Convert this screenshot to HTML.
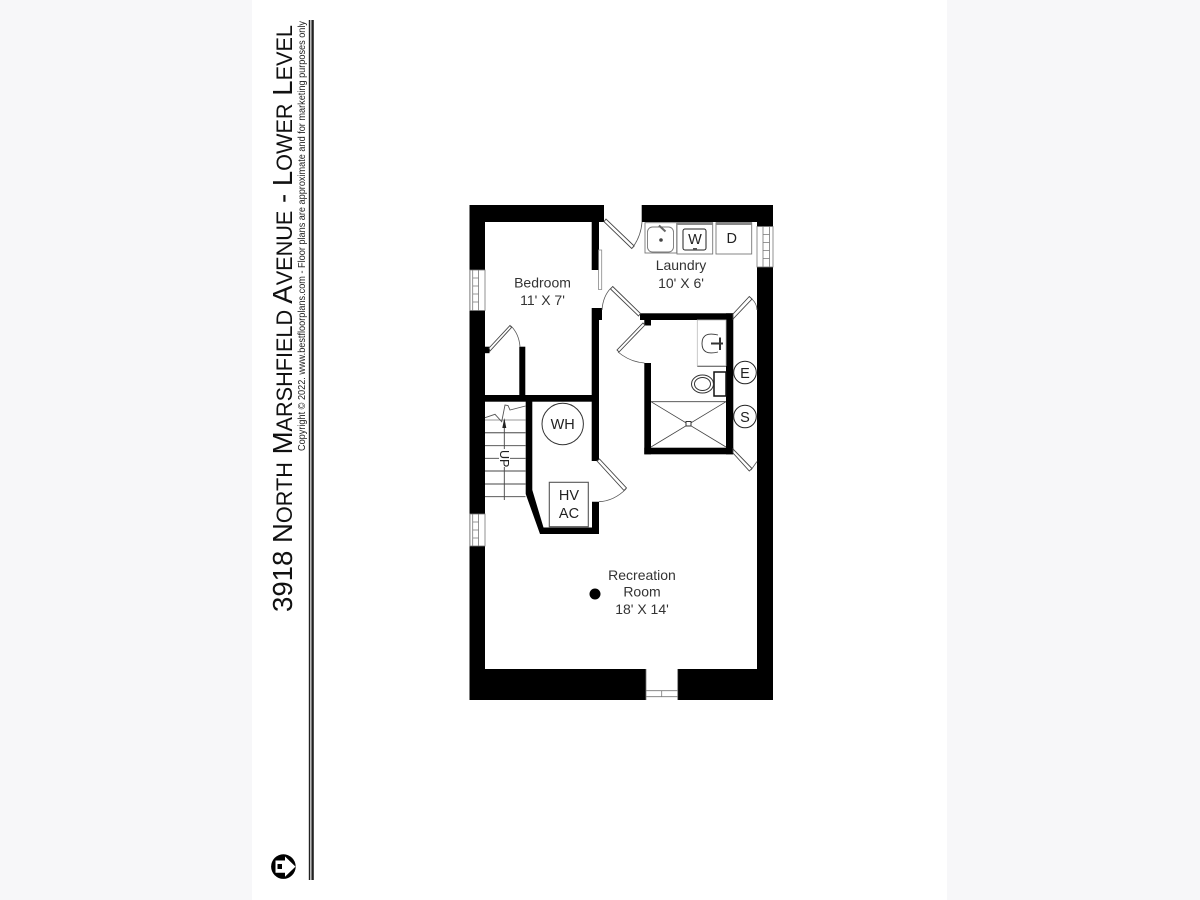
<!DOCTYPE html>
<html><head><meta charset="utf-8"><style>
html,body{margin:0;padding:0;background:#f7f7f9;width:1200px;height:900px;overflow:hidden}
svg{display:block;filter:blur(0.35px)}
text{font-family:"Liberation Sans",sans-serif;fill:#222}
</style></head><body>
<svg width="1200" height="900" viewBox="0 0 1200 900" xmlns="http://www.w3.org/2000/svg">
<rect width="1200" height="900" fill="#f7f7f9"/>
<rect x="252" width="695" height="900" fill="#fff"/>

<!-- title block -->
<g transform="translate(292,612) rotate(-90)">
<text x="0" y="0" font-size="28" textLength="587" lengthAdjust="spacingAndGlyphs" style="fill:#111">3918 N<tspan font-size="22">ORTH</tspan> M<tspan font-size="22">ARSHFIELD</tspan> A<tspan font-size="22">VENUE</tspan> - L<tspan font-size="22">OWER</tspan> L<tspan font-size="22">EVEL</tspan></text>
</g>
<g transform="translate(305,451) rotate(-90)">
<text x="0" y="0" font-size="10" textLength="430" lengthAdjust="spacingAndGlyphs">Copyright © 2022. www.bestfloorplans.com - Floor plans are approximate and for marketing purposes only</text>
</g>
<rect x="308.8" y="20" width="1.5" height="860" fill="#222"/>
<rect x="311.4" y="20" width="2.4" height="860" fill="#222"/>
<circle cx="283.4" cy="866.6" r="12.3" fill="#000"/>
<path d="M275.500 860.500H285V856.500L295.500 866.600L285 876.700V872.700H275.500Z" fill="#fff"/>
<rect x="277.500" y="864" width="4.500" height="5" fill="#000"/>

<!-- exterior walls -->
<rect x="469.5" y="205" width="303.5" height="495" fill="#000"/>
<rect x="485" y="222" width="272" height="447" fill="#fff"/>
<rect x="604" y="205" width="37.7" height="17" fill="#fff"/>

<!-- windows -->
<g fill="#fff" stroke="#777" stroke-width="0.8">
<rect x="470" y="270" width="15" height="40.5"/>
<path d="M472.700 270V310.500M478.500 270V310.500M472.700 278H478.500M472.700 286H478.500M472.700 294H478.500M472.700 302H478.500" fill="none"/>
<rect x="470" y="514" width="15" height="32"/>
<path d="M472.700 514V546M478.500 514V546M472.700 522H478.500M472.700 530H478.500M472.700 538H478.500" fill="none"/>
<rect x="757" y="226.5" width="16" height="40.5"/>
<path d="M763 226.500V267M769.500 226.500V267M763 234.500H769.500M763 242.500H769.500M763 250.500H769.500M763 258.500H769.500" fill="none"/>
</g>
<rect x="646" y="669" width="31.7" height="31" fill="#fff"/>
<path d="M646 669V700M677.700 669V700M646 690.700H677.700M646 696.700H677.700M661.700 690.700V696.700" fill="none" stroke="#777" stroke-width="0.8"/>

<!-- interior walls -->
<g fill="#000">
<rect x="591.7" y="222" width="7.3" height="48"/>
<rect x="591.7" y="308" width="7.3" height="153"/>
<rect x="599" y="308" width="3" height="12"/>
<rect x="485" y="395" width="114" height="6.7"/>
<rect x="519.3" y="346.7" width="6" height="48.5"/>
<rect x="485" y="346.7" width="4.5" height="6.5"/>
<path d="M525.7 401H532.3V490L543.5 527.5H592V501.7H599V534H540L525.7 494Z"/>
<rect x="640" y="313.3" width="93.3" height="6.7"/>
<rect x="644.3" y="320" width="6.7" height="5.5"/>
<rect x="726" y="313.3" width="7.3" height="141"/>
<rect x="644.3" y="363" width="6.7" height="91.3"/>
<rect x="644.3" y="447.7" width="89" height="6.6"/>
</g>

<!-- doors -->
<g fill="#fff" stroke="#444" stroke-width="0.9">
<path d="M604 221.700L631.700 248.500L634.200 246L606 219Z"/>
<path d="M612.700 286.500L640.500 313.500L638.500 316L610.500 289Z"/>
<path d="M645 325L619 352L617 350L643 323Z"/>
<path d="M489 348L510 325.500L511.500 327.500L490 351Z"/>
<path d="M733 314L749.300 296.500L752 299L733 319Z"/>
<path d="M733 453L749.300 471L752 468.500L733 449Z"/>
<path d="M597 461L624 490.500L626.500 488L599.500 459Z"/>
</g>
<g fill="none" stroke="#555" stroke-width="0.8">
<path d="M633 247Q641 236 642 222"/>
<path d="M611 288Q603 296 602 310"/>
<path d="M618 352Q630 362 644.500 363"/>
<path d="M511 326Q519 334 520 346.700"/>
<path d="M752 299Q757 304 757 310"/>
<path d="M751 470L757 461.500"/>
<path d="M626 489Q614 501 599 501.700"/>
<path d="M598.500 250V289.500H601.700V250Z" stroke="#888"/>
</g>

<!-- laundry fixtures -->
<g fill="#fff" stroke="#777" stroke-width="0.9">
<rect x="645" y="222.700" width="31.700" height="30.300"/>
<rect x="647.500" y="227" width="26" height="25" rx="5"/>
<rect x="677" y="222.700" width="35.700" height="31.300"/>
<rect x="716" y="222.700" width="35.700" height="31.300"/>
</g>
<rect x="677" y="222" width="35.700" height="3" fill="#888"/>
<rect x="716" y="222" width="35.700" height="3" fill="#888"/>
<rect x="683" y="229" width="23" height="21" rx="2" fill="#fff" stroke="#222" stroke-width="1"/>
<circle cx="661" cy="240" r="1.800" fill="#444"/>
<path d="M659 225.500L665.500 231.500" stroke="#666" stroke-width="2"/>
<rect x="693" y="248" width="4" height="2" fill="#555"/>

<!-- bath fixtures -->
<rect x="697.300" y="320" width="28.700" height="45.700" fill="#fff" stroke="#bbb" stroke-width="0.8"/>
<path d="M697.300 366.500H726" stroke="#777" stroke-width="0.9"/>
<path d="M718 335Q702 331 702 343.500Q702 356 718 352" fill="none" stroke="#333" stroke-width="0.9"/>
<path d="M711 343.500H723M720 337.500V350" stroke="#333" stroke-width="2"/>
<rect x="714" y="372" width="12" height="24" fill="#fff" stroke="#111" stroke-width="1.500"/>
<ellipse cx="702.500" cy="384" rx="11" ry="9" fill="#fff" stroke="#333"/>
<ellipse cx="702.500" cy="384" rx="8" ry="6.500" fill="#fff" stroke="#333"/>
<path d="M651 401.700H726M651 447L726 401.700M651 401.700L726 447" stroke="#444" stroke-width="0.800" fill="none"/>
<rect x="686" y="421.500" width="5" height="4.500" fill="#fff" stroke="#333"/>
<circle cx="745" cy="372.500" r="11.300" fill="#fff" stroke="#222"/>
<circle cx="745" cy="416.500" r="11.300" fill="#fff" stroke="#222"/>

<!-- stairs -->
<g stroke="#444" stroke-width="0.900" fill="none">
<path d="M485 420H525.500" stroke="#999"/>
<path d="M485 432.700H525.500" stroke="#777" stroke-width="1.300"/>
<path d="M485 445.700H525.500M485 458.300H525.500M485 471H525.500M485 484H525.500M485 496.700H525.500"/>
<path d="M504.300 420V500"/>
<path d="M485 417.700L495 414.300L501.700 421.700L505 405L508 405.500L510 410L525.500 406" stroke="#555"/>
</g>
<path d="M504.300 418L502.300 428H506.300Z" fill="#222"/>
<rect x="499" y="449" width="11" height="18" fill="#fff"/>
<text transform="translate(500,450) rotate(90)" font-size="12.500">UP</text>

<!-- WH / HVAC -->
<circle cx="562.700" cy="424" r="20.700" fill="#fff" stroke="#333"/>
<rect x="549.300" y="482.300" width="39" height="44.400" fill="#fff" stroke="#555" stroke-width="1.100"/>
<circle cx="595" cy="594" r="5.500" fill="#000"/>

<!-- labels -->
<g text-anchor="middle" style="fill:#333">
<text x="542.500" y="287.500" font-size="14" style="fill:#333">Bedroom</text>
<text x="542.500" y="305" font-size="14" style="fill:#333">11' X 7'</text>
<text x="681" y="270" font-size="14" style="fill:#333">Laundry</text>
<text x="681" y="288" font-size="14" style="fill:#333">10' X 6'</text>
<text x="642" y="580" font-size="14" style="fill:#333">Recreation</text>
<text x="642" y="596.500" font-size="14" style="fill:#333">Room</text>
<text x="642" y="614" font-size="14" style="fill:#333">18' X 14'</text>
<text x="562.700" y="429" font-size="14.500">WH</text>
<text x="569" y="500" font-size="14.500">HV</text>
<text x="569" y="518" font-size="14.500">AC</text>
<text x="695" y="244" font-size="14.500">W</text>
<text x="731.700" y="243" font-size="14.500">D</text>
<text x="745" y="378" font-size="14.500">E</text>
<text x="745" y="422" font-size="14.500">S</text>
</g>
</svg>
</body></html>
